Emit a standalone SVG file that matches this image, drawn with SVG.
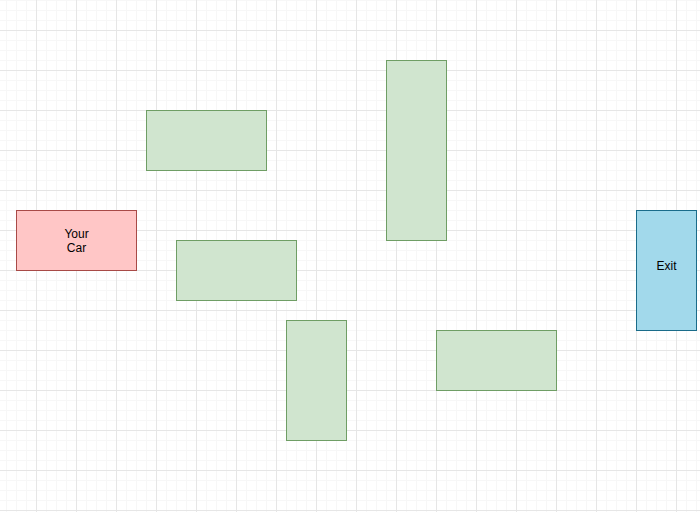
<svg xmlns="http://www.w3.org/2000/svg" width="700" height="512" viewBox="0 0 700 512">
<defs>
<pattern id="minor" x="6" y="0" width="10" height="10" patternUnits="userSpaceOnUse">
<path d="M0.5 0V10M0 0.5H10" fill="none" stroke="#f7f7f7" stroke-width="1"/>
</pattern>
<pattern id="major" x="36" y="30" width="40" height="40" patternUnits="userSpaceOnUse">
<path d="M0.5 0V40M0 0.5H40" fill="none" stroke="#e6e6e6" stroke-width="1"/>
</pattern>
<style>
.g{fill:#d0e5cf;stroke:#6f9e65;stroke-width:1}
.t{font-family:"Liberation Sans",Arial,sans-serif;font-size:12px;fill:#000;text-anchor:middle}
</style>
</defs>
<rect width="700" height="512" fill="#fff"/>
<rect width="700" height="512" fill="url(#minor)"/>
<rect width="700" height="512" fill="url(#major)"/>
<g id="connectors"/>
<g id="car"><rect x="16.5" y="210.5" width="120" height="60" fill="#ffc6c6" stroke="#a84a47"/><text class="t" x="76.5" y="238">Your</text><text class="t" x="76.5" y="252">Car</text></g>
<g id="block1"><rect class="g" x="146.5" y="110.5" width="120" height="60"/></g>
<g id="block2"><rect class="g" x="176.5" y="240.5" width="120" height="60"/></g>
<g id="block3"><rect class="g" x="386.5" y="60.5" width="60" height="180"/></g>
<g id="block4"><rect class="g" x="286.5" y="320.5" width="60" height="120"/></g>
<g id="block5"><rect class="g" x="436.5" y="330.5" width="120" height="60"/></g>
<g id="exit"><rect x="636.5" y="210.5" width="60" height="120" fill="#a2d9eb" stroke="#1a6c8a"/><text class="t" x="666.5" y="270">Exit</text></g>
</svg>
